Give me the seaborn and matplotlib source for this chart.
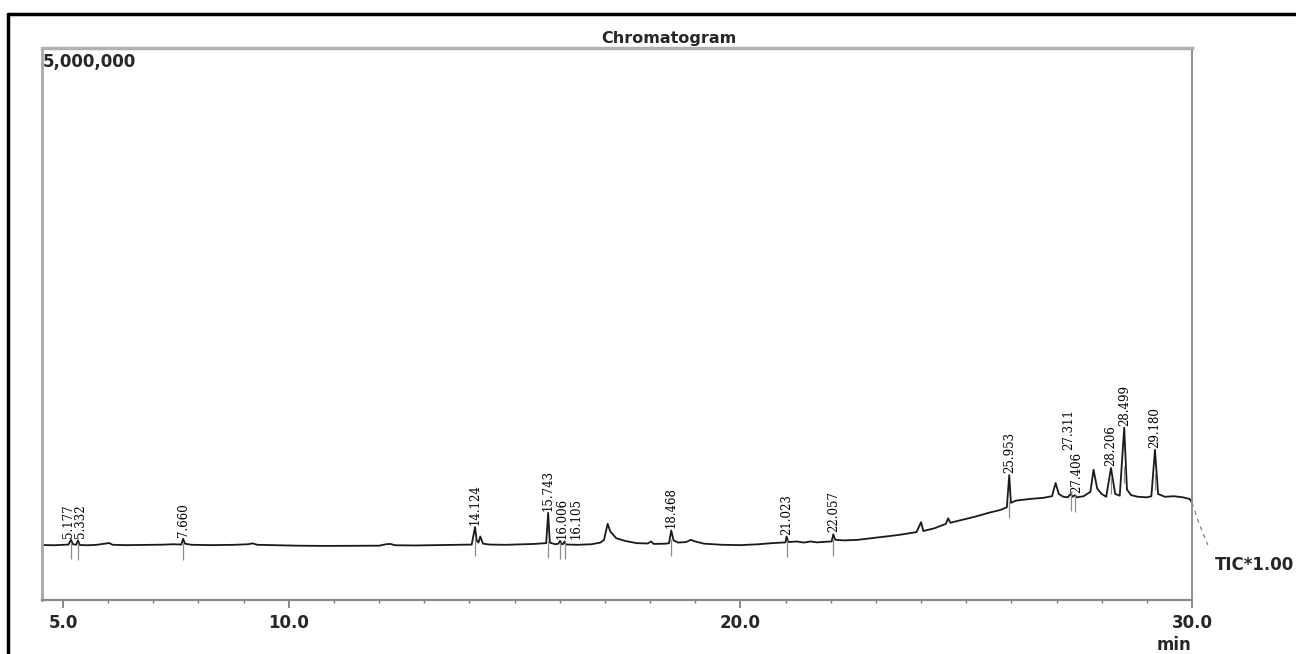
import numpy as np
import pandas as pd
import matplotlib
matplotlib.use("Agg")
import matplotlib.pyplot as plt
import seaborn as sns
from matplotlib.lines import Line2D

# TIC trace: retention time (min) and intensity (x1000 counts)
rt = [4.54, 4.80, 5.00, 5.12, 5.177, 5.22, 5.29, 5.332, 5.37, 5.55, 5.75, 5.95, 6.02, 6.10,
      6.40, 6.80, 7.20, 7.45, 7.62, 7.66, 7.70, 7.85, 8.30, 8.80, 9.10, 9.20, 9.30, 9.70,
      10.20, 10.80, 11.40, 12.00, 12.15, 12.25, 12.35, 12.80, 13.30, 13.70, 14.05, 14.124,
      14.16, 14.20, 14.24, 14.30, 14.45, 14.80, 15.10, 15.40, 15.60, 15.70, 15.743, 15.78,
      15.90, 15.97, 16.006, 16.05, 16.08, 16.105, 16.14, 16.40, 16.70, 16.90, 16.98, 17.06,
      17.12, 17.25, 17.45, 17.70, 17.95, 18.02, 18.08, 18.35, 18.42, 18.468, 18.52, 18.62,
      18.80, 18.90, 19.00, 19.20, 19.60, 20.00, 20.40, 20.70, 20.90, 21.00, 21.023, 21.06,
      21.25, 21.40, 21.55, 21.70, 21.90, 22.02, 22.057, 22.10, 22.30, 22.60, 22.90, 23.20,
      23.50, 23.90, 24.00, 24.05, 24.30, 24.55, 24.60, 24.65, 24.90, 25.20, 25.50, 25.75,
      25.90, 25.953, 25.99, 26.10, 26.40, 26.70, 26.90, 26.98, 27.05, 27.15, 27.25, 27.311,
      27.36, 27.406, 27.45, 27.60, 27.75, 27.82, 27.90, 28.00, 28.10, 28.206, 28.30, 28.40,
      28.499, 28.56, 28.65, 28.80, 29.00, 29.10, 29.180, 29.25, 29.40, 29.60, 29.80, 29.95,
      30.00]
tic_k = [498, 496, 500, 502, 545, 505, 500, 540, 498, 496, 500, 512, 516, 500,
         497, 499, 501, 505, 502, 555, 510, 500, 497, 500, 505, 513, 500, 496,
         492, 490, 491, 492, 505, 508, 496, 494, 497, 500, 502, 661,
         540, 520, 575, 510, 502, 500, 503, 507, 512, 515, 790, 520,
         505, 510, 535, 505, 508, 530, 503, 500, 505, 520, 545, 690,
         620, 560, 535, 515, 512, 530, 508, 510, 515, 630, 540, 520,
         525, 545, 530, 510, 500, 497, 505, 515, 520, 522, 575, 525,
         530, 520, 530, 522, 528, 530, 595, 545, 540, 545, 560, 575,
         589, 615, 705, 625, 650, 690, 740, 700, 725, 755, 790, 815,
         840, 1130, 880, 900, 915, 925, 940, 1060, 960, 935, 930, 960,
         935, 950, 930, 940, 980, 1180, 1010, 960, 935, 1196, 960, 945,
         1560, 1000, 950, 935, 930, 940, 1360, 960, 935, 940, 930, 915,
         880]

# trace running out past the right edge (drawn dashed)
tail_rt = [30.00, 30.15, 30.35]
tail_tic_k = [880, 700, 498]

# labelled peaks
peak_rt = [5.177, 5.332, 7.660, 14.124, 15.743, 16.006, 16.105, 18.468, 21.023,
           22.057, 25.953, 27.311, 27.406, 28.206, 28.499, 29.180]
peak_lbl = ["5.177", "5.332", "7.660", "14.124", "15.743", "16.006", "16.105", "18.468",
            "21.023", "22.057", "25.953", "27.311", "27.406", "28.206", "28.499", "29.180"]

x_ticks = [5.0, 10.0, 20.0, 30.0]
x_tick_lbl = ["5.0", "10.0", "20.0", "30.0"]

sns.set_style("white")
plt.rcParams["font.family"] = ["DejaVu Sans"]

W, H = 1296, 654
fig = plt.figure(figsize=(W / 100, H / 100), dpi=100)
ax = fig.add_axes([42 / W, 54 / H, 1150 / W, 552 / H])

df = pd.DataFrame({"rt": rt, "tic": np.array(tic_k) * 1000.0})
sns.lineplot(data=df, x="rt", y="tic", ax=ax, color="#1a1a1a", lw=1.3,
             estimator=None, sort=False)
ax.plot(tail_rt, np.array(tail_tic_k) * 1000.0, color="#8a8a8a", lw=1.0,
        ls=(0, (3, 3)), clip_on=False)

ax.set_xlim(4.535, 30.0)
ax.set_ylim(0, 5e6)

# nudges (pixels) so crowded labels sit apart as in the original
nudge = {"5.177": (-2, 2), "5.332": (3, 2), "16.006": (2, 2), "16.105": (12, 2),
         "27.311": (-2, 44), "27.406": (2, 2)}

px = 5e6 / 552  # counts per pixel
for t, lbl in zip(peak_rt, peak_lbl):
    top = np.interp(t, df["rt"], df["tic"])
    base = min(np.interp(t - 0.04, df["rt"], df["tic"]), np.interp(t + 0.04, df["rt"], df["tic"]))
    ax.vlines(t, base - 15 * px, base + 2 * px, color="#8c8c8c", lw=0.9)
    dx, dy = nudge.get(lbl, (0, 2))
    ax.annotate(lbl, (t, top), xytext=(dx, dy), textcoords="offset pixels",
                rotation=90, ha="center", va="bottom", fontsize=8.5,
                family="DejaVu Serif", color="black")

ax.set_xticks(x_ticks)
ax.set_xticklabels(x_tick_lbl, fontsize=12, fontweight="bold")
ax.set_xticks(np.arange(5, 31, 1), minor=True)
ax.set_yticks([])
ax.tick_params(axis="x", which="major", direction="out", length=6, width=1.2,
               color="#777777", pad=4, bottom=True)
ax.tick_params(axis="x", which="minor", direction="out", length=2.5, width=1.0,
               color="#777777", bottom=True)
ax.set_xlabel("")
ax.set_ylabel("")

for side, c, w in [("left", "#a8a8a8", 2.0), ("bottom", "#8a8a8a", 1.6),
                   ("top", "#b0b0b0", 2.5), ("right", "#909090", 1.4)]:
    ax.spines[side].set_visible(True)
    ax.spines[side].set_color(c)
    ax.spines[side].set_linewidth(w)

fig.text(669 / W, 1 - 39 / H, "Chromatogram", ha="center", va="center",
         fontsize=11.5, fontweight="bold")
fig.text(43 / W, 1 - 62 / H, "5,000,000", ha="left", va="center",
         fontsize=12, fontweight="bold")
fig.text(1215 / W, 1 - 565 / H, "TIC*1.00", ha="left", va="center",
         fontsize=12, fontweight="bold")
fig.text(1174 / W, 1 - 645 / H, "min", ha="center", va="center",
         fontsize=12, fontweight="bold")

# outer black frame (top and left edges visible)
fig.add_artist(Line2D([8 / W, 1.0], [1 - 14 / H] * 2, transform=fig.transFigure,
                      color="black", lw=2.5))
fig.add_artist(Line2D([8 / W] * 2, [0, 1 - 14 / H], transform=fig.transFigure,
                      color="black", lw=2.5))

fig.savefig("out.png", dpi=100)
